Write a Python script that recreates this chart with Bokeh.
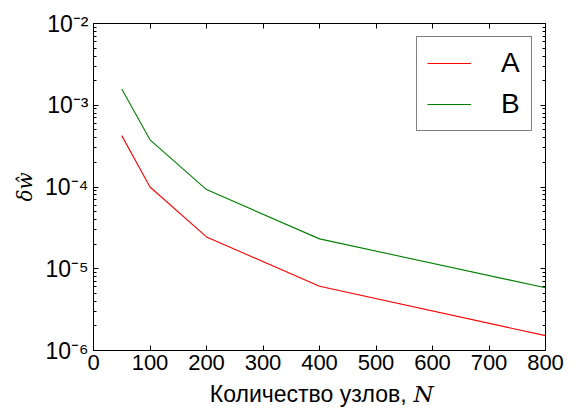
from bokeh.plotting import figure
from bokeh.layouts import column
from bokeh.models import (Legend, LegendItem, LinearAxis, LogAxis, Range1d,
                          CustomJSTickFormatter, Label, FixedTicker)
from bokeh.embed import file_html
from bokeh.resources import INLINE

# Mesh size vs. error for the two schemes
nodes = [50, 100, 200, 400, 800]
err_a = [4.25e-4, 1.0e-4, 2.45e-5, 6.1e-6, 1.52e-6]
err_b = [1.58e-3, 3.78e-4, 9.3e-5, 2.32e-5, 5.85e-6]

x_ticks = [0, 100, 200, 300, 400, 500, 600, 700, 800]
y_ticks = [1e-6, 1e-5, 1e-4, 1e-3, 1e-2]
series_names = ["A", "B"]
x_label_text = "Количество узлов,"
x_label_var = "N"
y_label_text = "δŵ"

FONT = "Liberation Sans"
W = 579
STRIP_H = 31

p = figure(width=W, height=410 - STRIP_H, y_axis_type="log",
           x_range=Range1d(0, 800), y_range=Range1d(1e-6, 1e-2),
           output_backend="svg", toolbar_location=None,
           min_border_left=93, min_border_right=34,
           min_border_top=23, min_border_bottom=60 - STRIP_H)
p.grid.visible = False
p.outline_line_color = "#000000"
p.outline_line_width = 1
p.background_fill_color = "white"
p.border_fill_color = "white"

sup_fmt = CustomJSTickFormatter(code="""
const sup = {'-':'\u207b','0':'\u2070','1':'\u00b9','2':'\u00b2','3':'\u00b3',
             '4':'\u2074','5':'\u2075','6':'\u2076','7':'\u2077','8':'\u2078','9':'\u2079'};
const e = Math.round(Math.log10(tick));
return '10' + String(e).split('').map(c => sup[c]).join('');
""")
blank_fmt = CustomJSTickFormatter(code="return '';")
minor_y = [m * d for d in y_ticks[:-1] for m in range(2, 10)]

# main axes
xa = p.xaxis[0]
xa.ticker = FixedTicker(ticks=x_ticks)
xa.major_label_text_font = FONT
xa.major_label_text_font_size = "22px"
xa.major_label_text_color = "#000000"
xa.major_label_standoff = 4
xa.major_tick_in = 5
xa.major_tick_out = 0
xa.minor_tick_line_color = None
xa.axis_line_color = "#000000"
xa.major_tick_line_color = "#000000"

ya = p.yaxis[0]
ya.ticker = FixedTicker(ticks=y_ticks, minor_ticks=minor_y)
ya.formatter = sup_fmt
ya.major_label_text_font = FONT
ya.major_label_text_font_size = "23px"
ya.major_label_text_color = "#000000"
ya.major_label_standoff = 5
ya.major_tick_in = 5
ya.major_tick_out = 0
ya.minor_tick_in = 3
ya.minor_tick_out = 0
ya.axis_line_color = "#000000"
ya.major_tick_line_color = "#000000"
ya.minor_tick_line_color = "#000000"
ya.axis_label = y_label_text
ya.axis_label_text_font = "DejaVu Serif"
ya.axis_label_text_font_style = "italic"
ya.axis_label_text_font_size = "20px"
ya.axis_label_text_color = "#000000"
ya.axis_label_standoff = 5

# mirrored ticks on the top and right edges
top = LinearAxis(ticker=FixedTicker(ticks=x_ticks), formatter=blank_fmt,
                 major_tick_in=5, major_tick_out=0, minor_tick_line_color=None,
                 axis_line_color="#000000", major_label_standoff=0)
right = LogAxis(ticker=FixedTicker(ticks=y_ticks, minor_ticks=minor_y),
                formatter=blank_fmt, major_tick_in=5, major_tick_out=0,
                minor_tick_in=3, minor_tick_out=0, axis_line_color="#000000",
                major_label_standoff=0)
p.add_layout(top, "above")
p.add_layout(right, "right")

ra = p.line(nodes, err_a, line_color="#ff0000", line_width=1.1)
rb = p.line(nodes, err_b, line_color="#008000", line_width=1.1)

legend = Legend(items=[LegendItem(label=series_names[0], renderers=[ra]),
                       LegendItem(label=series_names[1], renderers=[rb])],
                location="top_right", margin=13, padding=10, spacing=9,
                glyph_width=44, label_standoff=30,
                label_text_font=FONT, label_text_font_size="28px",
                label_text_color="#000000",
                border_line_color="#000000", border_line_width=1,
                background_fill_alpha=1.0)
p.add_layout(legend)

# strip under the plot that carries the x-axis title
t = figure(width=W, height=STRIP_H, x_range=Range1d(0, W), y_range=Range1d(0, STRIP_H),
           output_backend="svg", toolbar_location=None,
           x_axis_location=None, y_axis_location=None, min_border=0)
t.grid.visible = False
t.outline_line_color = None
t.border_fill_color = "white"
t.add_layout(Label(x=401, y=17, text=x_label_text, text_align="right",
                   text_baseline="alphabetic", text_font=FONT,
                   text_font_size="23px", text_color="#000000"))
t.add_layout(Label(x=410, y=17, text=x_label_var, text_align="left",
                   text_baseline="alphabetic", text_font="DejaVu Serif",
                   text_font_style="italic", text_font_size="23px",
                   text_color="#000000"))

layout = column(p, t, spacing=0)
open("out.html", "w").write(file_html(layout, INLINE))
